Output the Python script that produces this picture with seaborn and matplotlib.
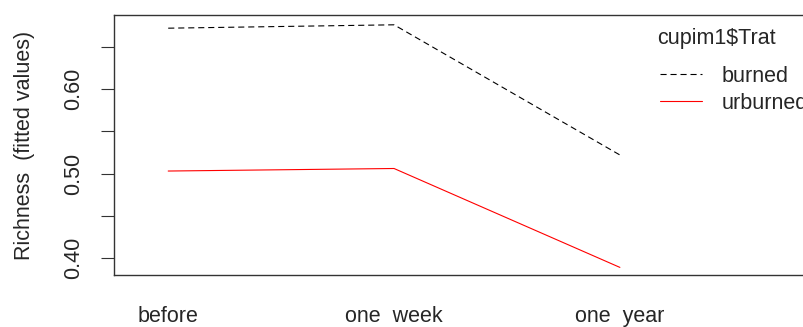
import seaborn as sns
import matplotlib.pyplot as plt
import pandas as pd
from matplotlib.lines import Line2D

times = ["before", "one  week", "one  year"]
burned = [0.672, 0.676, 0.522]
urburned = [0.503, 0.506, 0.389]

df = pd.DataFrame({
    "time": times * 2,
    "pos": [1, 2, 3] * 2,
    "richness": burned + urburned,
    "Trat": ["burned"] * 3 + ["urburned"] * 3,
})

sns.set_style("white")
plt.rcParams["font.family"] = ["Liberation Sans", "DejaVu Sans"]
fs = 15.5

fig = plt.figure(figsize=(8.04, 3.27), dpi=100)
ax = fig.add_axes([114 / 804, 1 - 275 / 327, 1.0, 260 / 327])

sns.lineplot(data=df, x="pos", y="richness", hue="Trat", style="Trat",
             palette={"burned": "black", "urburned": "red"},
             dashes={"burned": (5.5, 3.5), "urburned": ""},
             linewidth=0.8, legend=False, ax=ax)

ax.set_xlim(0.76, 4.32)
ax.set_ylim(0.380, 0.6876)
ax.set_xticks([1, 2, 3])
ax.set_xticklabels(times, fontsize=fs)
ax.tick_params(axis="x", length=0, pad=22)
ax.set_yticks([0.40, 0.45, 0.50, 0.55, 0.60, 0.65])
ax.set_yticklabels(["0.40", "", "0.50", "", "0.60", ""], rotation=90,
                   va="center", fontsize=fs)
ax.tick_params(axis="y", left=True, length=9.5, width=0.8, pad=12,
               color="#333333")
ax.set_xlabel("")
ax.set_ylabel("Richness  (fitted values)", fontsize=fs, labelpad=20)
for side in ["left", "top", "bottom"]:
    ax.spines[side].set_color("#333333")
    ax.spines[side].set_linewidth(1.0)
ax.spines["right"].set_visible(False)

# legend, R style: title on its own, entries below
ax.text(0.6754, 0.9115, "cupim1$Trat", transform=ax.transAxes,
        fontsize=fs, ha="left", va="center")
handles = [Line2D([], [], color="black", lw=0.8, dashes=(5.5, 3.5)),
           Line2D([], [], color="red", lw=0.8)]
ax.legend(handles, ["burned", "urburned"],
          frameon=False, loc="upper left", bbox_to_anchor=(0.679, 0.804),
          fontsize=fs, handlelength=1.95,
          handletextpad=0.93, labelspacing=0.28, borderaxespad=0,
          borderpad=0)

fig.savefig("out.png", dpi=100)
